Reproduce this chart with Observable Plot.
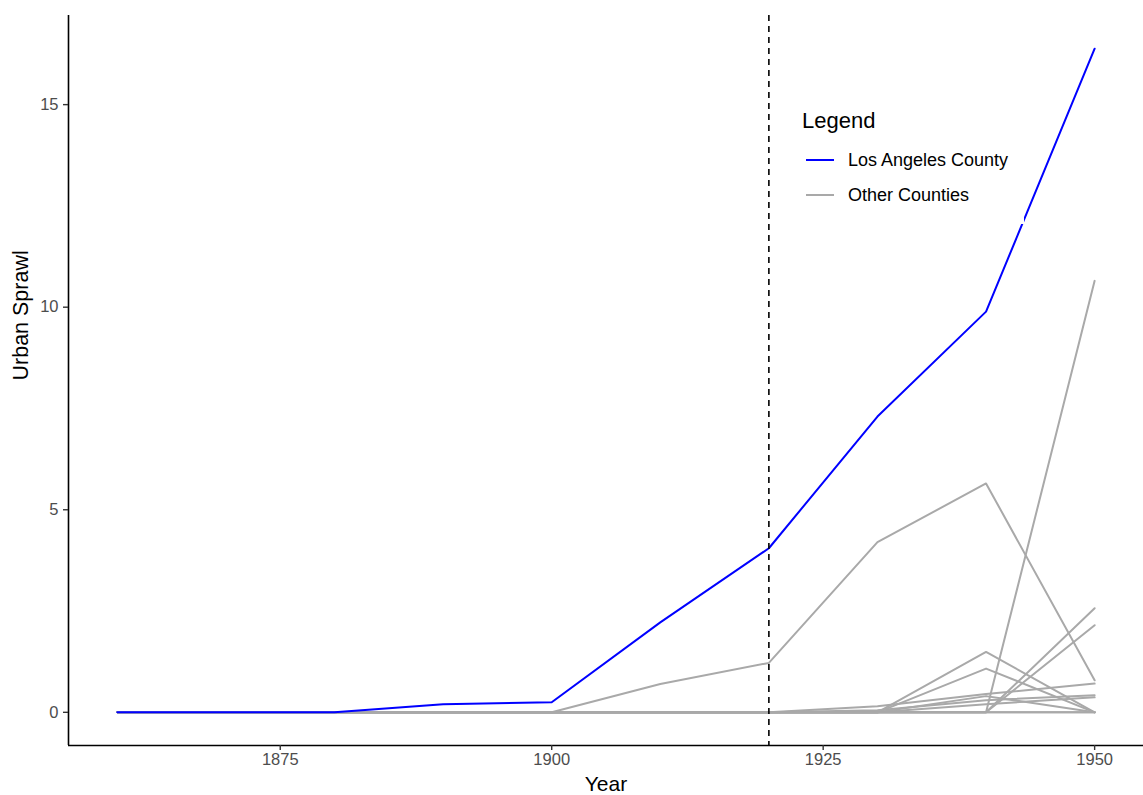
<!DOCTYPE html>
<html>
<head>
<meta charset="utf-8">
<script src="https://cdn.jsdelivr.net/npm/d3@7"></script>
<script src="https://cdn.jsdelivr.net/npm/@observablehq/plot@0.6"></script>
<style>
  html, body { margin: 0; padding: 0; background: #fff; }
  #wrap { position: relative; width: 1143px; height: 795px; font-family: "Liberation Sans", Arial, Helvetica, sans-serif; }
  #legend { position: absolute; left: 790px; top: 100px; width: 234px; height: 124px; background: #fff; }
  #legend .title { position: absolute; left: 12px; top: 8px; font-size: 22px; line-height: 26px; color: #000; }
  #legend .item { position: absolute; left: 16px; font-size: 18px; line-height: 22px; color: #000; display: flex; align-items: center; }
  #legend .sw { width: 28px; height: 2px; margin-right: 14px; }
</style>
</head>
<body>
<div id="wrap">
  <div id="chart"></div>
  <div id="legend">
    <div class="title">Legend</div>
    <div class="item" style="top:49px"><span class="sw" style="background:#0000ff"></span>Los Angeles County</div>
    <div class="item" style="top:84px"><span class="sw" style="background:#a9a9a9"></span>Other Counties</div>
  </div>
</div>
<script>
const years = [1860, 1870, 1880, 1890, 1900, 1910, 1920, 1930, 1940, 1950];
const xTicks = [1875, 1900, 1925, 1950];
const yTicks = [0, 5, 10, 15];
const policyYear = 1920;

const losAngeles = [0, 0, 0, 0.2, 0.25, 2.22, 4.05, 7.30, 9.89, 16.38];

const county1  = [0, 0, 0, 0, 0, 0.70, 1.22, 4.20, 5.65, 0.79];
const county2  = [0, 0, 0, 0, 0, 0, 0, 0, 0, 10.65];
const county3  = [0, 0, 0, 0, 0, 0, 0, 0, 0, 2.57];
const county4  = [0, 0, 0, 0, 0, 0, 0, 0, 0, 2.15];
const county5  = [0, 0, 0, 0, 0, 0, 0, 0, 1.49, 0];
const county6  = [0, 0, 0, 0, 0, 0, 0, 0, 1.08, 0];
const county7  = [0, 0, 0, 0, 0, 0, 0, 0.15, 0.45, 0.71];
const county8  = [0, 0, 0, 0, 0, 0, 0, 0.05, 0.30, 0.42];
const county9  = [0, 0, 0, 0, 0, 0, 0, 0, 0.20, 0.37];
const county10 = [0, 0, 0, 0, 0, 0, 0, 0, 0.40, 0];
const county11 = [0, 0, 0, 0, 0, 0, 0, 0, 0, 0];
const county12 = [0, 0, 0, 0, 0, 0, 0, 0, 0, 0];

const others = [county1, county2, county3, county4, county5, county6, county7, county8, county9, county10, county11, county12];

const otherRows = [];
others.forEach((vals, i) => vals.forEach((v, j) => otherRows.push({county: "c" + i, year: years[j], value: v})));
const laRows = years.map((y, j) => ({year: y, value: losAngeles[j]}));

const xDomain = [1855.5, 1954.5];
const yDomain = [-0.819, 17.2];

const chart = Plot.plot({
  width: 1143,
  height: 795,
  marginLeft: 68,
  marginRight: 0,
  marginTop: 15,
  marginBottom: 50,
  style: {fontFamily: '"Liberation Sans", Arial, Helvetica, sans-serif', background: "#fff"},
  x: {domain: xDomain},
  y: {domain: yDomain},
  marks: [
    Plot.lineY(otherRows, {x: "year", y: "value", z: "county", stroke: "#a9a9a9", strokeWidth: 2}),
    Plot.lineY(laRows, {x: "year", y: "value", stroke: "#0000ff", strokeWidth: 2}),
    Plot.ruleX([policyYear], {stroke: "#000", strokeWidth: 1.6, strokeDasharray: "6,5"}),
    Plot.ruleX([xDomain[0]], {stroke: "#000", strokeWidth: 1.6}),
    Plot.ruleY([yDomain[0]], {stroke: "#000", strokeWidth: 1.6}),
    Plot.axisX({ticks: xTicks, tickFormat: d => String(d), tickSize: 5, tickPadding: 3, fontSize: 16.5, color: "#4d4d4d", stroke: "#333", strokeWidth: 1.4, label: null}),
    Plot.axisY({ticks: yTicks, tickSize: 5, tickPadding: 5, fontSize: 16.5, color: "#4d4d4d", stroke: "#333", strokeWidth: 1.4, label: null}),
    Plot.text(["Year"], {frameAnchor: "bottom", dy: 39, fontSize: 21, fill: "#000", lineAnchor: "middle"}),
    Plot.text(["Urban Sprawl"], {frameAnchor: "left", dx: -47, rotate: -90, fontSize: 21.5, fill: "#000", lineAnchor: "middle"})
  ]
});
document.getElementById("chart").appendChild(chart);
</script>
</body>
</html>
